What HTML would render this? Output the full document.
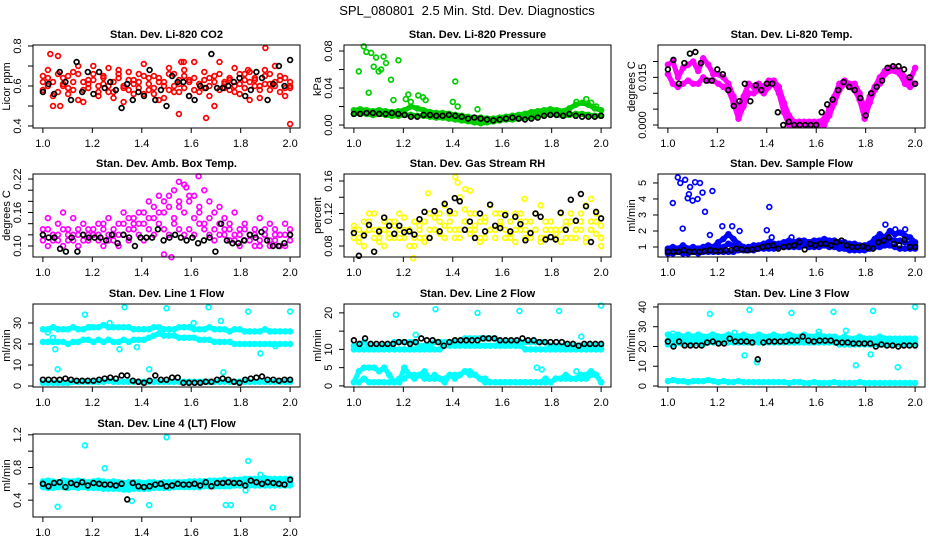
<!DOCTYPE html>
<html><head><meta charset="utf-8"><style>
body{margin:0;background:#fff;}
svg{display:block;font-family:"Liberation Sans",Arial,sans-serif;}
</style></head><body>
<svg id="c" width="936" height="540" viewBox="0 0 936 540" xmlns="http://www.w3.org/2000/svg">
<rect width="936" height="540" fill="#fff"/>
<text x="467" y="15" font-size="13" text-anchor="middle" style="white-space:pre">SPL_080801  2.5 Min. Std. Dev. Diagnostics</text>
</svg>
<script>
// ---------- data ----------
const xTicks = [1.0, 1.2, 1.4, 1.6, 1.8, 2.0];
const xTickLabels = ["1.0", "1.2", "1.4", "1.6", "1.8", "2.0"];

// Panel 1: CO2
const co2Red1 = [0.62,0.68,0.55,0.75,0.60,0.65,0.58,0.70,0.52,0.63,0.66,0.57,0.61,0.69,0.54,0.64,0.59,0.67,0.56,0.62,0.71,0.58,0.65,0.53,0.60,0.66,0.57,0.63,0.68,0.55,0.72,0.61,0.59,0.64,0.50,0.66,0.62,0.58,0.69,0.56,0.63,0.67,0.60,0.54,0.65,0.61,0.70,0.57,0.64,0.60];
const co2Red2 = [0.58,0.64,0.50,0.66,0.61,0.56,0.67,0.53,0.62,0.59,0.70,0.55,0.65,0.60,0.57,0.68,0.52,0.63,0.61,0.66,0.56,0.64,0.59,0.62,0.54,0.69,0.60,0.57,0.65,0.63,0.58,0.61,0.67,0.55,0.62,0.72,0.59,0.64,0.57,0.61,0.66,0.53,0.63,0.60,0.68,0.58,0.62,0.65,0.55,0.59];
const co2Red3 = [0.65,0.60,0.62,0.57,0.64,0.59,0.62,0.66,0.58,0.61,0.63,0.60,0.64,0.57,0.62,0.66,0.60,0.58,0.63,0.59,0.65,0.61,0.56,0.64,0.62,0.58,0.66,0.61,0.59,0.62,0.64,0.57,0.63,0.60,0.65,0.58,0.61,0.63,0.60,0.66,0.59,0.62,0.64,0.58,0.61,0.66,0.60,0.63,0.59,0.62];
const co2OutX = [1.03,1.07,1.55,1.66,1.90,2.00,1.56,1.57,1.83];
const co2OutY = [0.76,0.50,0.46,0.44,0.79,0.41,0.72,0.72,0.68];
const co2Black = [0.57,0.61,0.56,0.67,0.62,0.53,0.72,0.57,0.67,0.56,0.67,0.59,0.62,0.58,0.49,0.61,0.53,0.57,0.55,0.68,0.53,0.58,0.50,0.65,0.62,0.62,0.55,0.53,0.60,0.59,0.76,0.59,0.59,0.60,0.62,0.64,0.55,0.58,0.67,0.64,0.53,0.61,0.70,0.60,0.73];

// Panel 2: pressure
const presA = [0.016,0.017,0.016,0.015,0.016,0.015,0.014,0.015,0.016,0.020,0.018,0.016,0.014,0.013,0.013,0.012,0.011,0.010,0.009,0.008,0.008,0.007,0.007,0.008,0.009,0.010,0.011,0.012,0.014,0.015,0.016,0.017,0.016,0.015,0.018,0.022,0.024,0.022,0.018,0.016];
const presB = [0.012,0.013,0.012,0.011,0.012,0.011,0.010,0.010,0.011,0.011,0.010,0.010,0.009,0.008,0.008,0.007,0.006,0.005,0.004,0.003,0.002,0.003,0.004,0.005,0.006,0.006,0.007,0.008,0.009,0.010,0.011,0.012,0.011,0.010,0.011,0.012,0.012,0.011,0.010,0.010];
const presOutX = [1.02,1.04,1.05,1.06,1.07,1.08,1.09,1.10,1.11,1.12,1.13,1.15,1.16,1.18,1.21,1.22,1.23,1.26,1.28,1.29,1.40,1.41,1.42,1.50,1.90,1.94,1.96,1.98];
const presOutY = [0.058,0.085,0.079,0.035,0.078,0.063,0.073,0.058,0.060,0.074,0.067,0.049,0.027,0.070,0.028,0.033,0.025,0.032,0.030,0.027,0.025,0.047,0.020,0.017,0.025,0.028,0.024,0.020];
const presBlack = [0.012,0.012,0.013,0.013,0.012,0.012,0.013,0.012,0.011,0.009,0.009,0.011,0.011,0.010,0.010,0.011,0.010,0.009,0.007,0.008,0.007,0.006,0.005,0.006,0.007,0.008,0.007,0.006,0.007,0.008,0.010,0.011,0.011,0.010,0.012,0.010,0.009,0.009,0.009,0.010];

// Panel 3: Li-820 temp
const tempA = [0.019,0.020,0.015,0.018,0.019,0.020,0.017,0.021,0.019,0.016,0.016,0.015,0.013,0.009,0.005,0.009,0.013,0.012,0.013,0.012,0.014,0.014,0.012,0.007,0.003,0.001,0.001,0.001,0.001,0.001,0.001,0.002,0.005,0.009,0.013,0.014,0.013,0.013,0.010,0.005,0.009,0.012,0.015,0.017,0.018,0.018,0.017,0.015,0.014,0.018];
const tempB = [0.016,0.013,0.012,0.013,0.014,0.013,0.013,0.015,0.014,0.014,0.013,0.012,0.011,0.007,0.002,0.006,0.010,0.010,0.011,0.010,0.012,0.013,0.010,0.004,0.000,0.000,0.000,0.000,0.000,0.000,0.000,0.000,0.003,0.007,0.011,0.013,0.012,0.011,0.008,0.002,0.007,0.011,0.013,0.016,0.017,0.017,0.016,0.013,0.012,0.013];
const tempBlack = [0.0175,0.0205,0.0130,0.0195,0.0225,0.0230,0.0195,0.0140,0.0140,0.0175,0.0160,0.0110,0.0060,0.0075,0.0130,0.0075,0.0125,0.0110,0.0130,0.0130,0.0040,0.0000,0.0010,0.0000,0.0000,0.0000,0.0000,0.0000,0.0040,0.0065,0.0080,0.0110,0.0135,0.0120,0.0110,0.0085,0.0030,0.0100,0.0120,0.0140,0.0180,0.0185,0.0185,0.0175,0.0150,0.0130];

// Panel 4: amb box temp
const ambA = [0.13,0.15,0.12,0.14,0.16,0.13,0.15,0.12,0.14,0.13,0.12,0.14,0.13,0.15,0.12,0.14,0.16,0.13,0.15,0.14,0.16,0.15,0.17,0.16,0.18,0.19,0.20,0.17,0.21,0.18,0.19,0.17,0.20,0.18,0.16,0.17,0.15,0.14,0.16,0.13,0.14,0.12,0.13,0.15,0.12,0.14,0.13,0.12,0.14,0.12];
const ambB = [0.11,0.10,0.12,0.11,0.10,0.12,0.11,0.10,0.12,0.11,0.12,0.11,0.10,0.12,0.11,0.10,0.12,0.11,0.13,0.12,0.11,0.13,0.12,0.14,0.13,0.12,0.14,0.13,0.12,0.13,0.12,0.14,0.13,0.12,0.11,0.12,0.13,0.11,0.12,0.10,0.11,0.12,0.10,0.11,0.12,0.10,0.11,0.12,0.10,0.11];
const ambC = [0.12,0.13,0.11,0.12,0.13,0.11,0.12,0.13,0.11,0.12,0.13,0.12,0.14,0.11,0.13,0.12,0.14,0.15,0.14,0.16,0.14,0.18,0.15,0.19,0.16,0.17,0.15,0.18,0.16,0.19,0.15,0.16,0.14,0.15,0.13,0.14,0.12,0.13,0.11,0.12,0.13,0.11,0.12,0.10,0.13,0.11,0.12,0.10,0.12,0.13];
const ambOutX = [1.55,1.58,1.63,1.49,1.52];
const ambOutY = [0.215,0.205,0.225,0.085,0.08];
const ambBlack = [0.12,0.115,0.115,0.095,0.09,0.115,0.09,0.12,0.115,0.115,0.115,0.11,0.12,0.105,0.12,0.115,0.10,0.115,0.115,0.115,0.13,0.11,0.115,0.12,0.115,0.11,0.115,0.105,0.11,0.115,0.09,0.14,0.11,0.105,0.105,0.11,0.12,0.115,0.125,0.11,0.10,0.10,0.105,0.12];

// Panel 5: gas stream RH
const rhA = [0.10,0.09,0.11,0.10,0.12,0.09,0.10,0.11,0.09,0.12,0.10,0.08,0.11,0.10,0.09,0.12,0.10,0.11,0.13,0.10,0.12,0.14,0.11,0.10,0.12,0.09,0.11,0.13,0.10,0.12,0.09,0.11,0.10,0.12,0.09,0.11,0.10,0.13,0.09,0.11,0.10,0.12,0.09,0.11,0.10,0.12,0.13,0.10,0.11,0.09];
const rhB = [0.09,0.10,0.08,0.11,0.09,0.10,0.08,0.09,0.11,0.10,0.09,0.10,0.08,0.09,0.11,0.09,0.10,0.12,0.09,0.11,0.10,0.09,0.11,0.12,0.10,0.11,0.09,0.10,0.12,0.11,0.10,0.09,0.12,0.10,0.11,0.09,0.10,0.09,0.11,0.10,0.09,0.10,0.11,0.09,0.10,0.11,0.09,0.10,0.12,0.09];
const rhC = [0.105,0.085,0.095,0.12,0.10,0.085,0.11,0.095,0.105,0.09,0.115,0.10,0.09,0.105,0.085,0.10,0.115,0.095,0.105,0.12,0.09,0.10,0.125,0.095,0.105,0.085,0.115,0.10,0.09,0.105,0.12,0.095,0.085,0.11,0.10,0.095,0.12,0.085,0.10,0.11,0.095,0.085,0.105,0.12,0.09,0.10,0.085,0.11,0.095,0.105];
const rhOutX = [1.24,1.30,1.41,1.42,1.45,1.47,1.69,1.96,2.00];
const rhOutY = [0.065,0.145,0.165,0.158,0.150,0.148,0.138,0.138,0.080];
const rhBlack = [0.096,0.068,0.093,0.106,0.073,0.098,0.115,0.105,0.095,0.105,0.097,0.098,0.094,0.113,0.122,0.090,0.123,0.098,0.132,0.123,0.139,0.135,0.100,0.110,0.090,0.120,0.098,0.131,0.105,0.102,0.118,0.098,0.116,0.107,0.087,0.096,0.120,0.116,0.088,0.091,0.088,0.121,0.100,0.137,0.111,0.144,0.129,0.085,0.122,0.114];

// Panel 6: sample flow
const sfA = [0.9,1.0,0.9,1.1,0.9,1.0,0.9,1.0,1.1,1.0,1.3,1.5,1.8,1.5,1.2,1.0,1.0,1.1,1.1,1.2,1.3,1.2,1.2,1.3,1.4,1.3,1.4,1.4,1.3,1.4,1.4,1.5,1.4,1.4,1.3,1.3,1.2,1.2,1.1,1.1,1.2,1.5,1.8,1.6,2.0,1.8,1.9,1.7,1.6,1.3];
const sfB = [0.6,0.6,0.7,0.6,0.6,0.7,0.6,0.7,0.7,0.7,0.7,0.7,0.7,0.7,0.8,0.8,0.8,0.8,0.9,0.9,0.9,0.9,1.0,1.0,1.0,1.0,1.0,1.1,1.0,1.0,1.0,1.1,1.0,1.0,0.9,0.9,0.8,0.8,0.8,0.8,0.9,1.0,1.0,1.1,1.1,1.0,0.9,0.9,0.9,0.9];
const sfC = [0.8,0.8,0.8,0.8,0.8,0.8,0.8,0.8,0.9,0.9,1.0,1.0,1.2,1.1,1.0,0.9,0.9,0.9,1.0,1.0,1.1,1.1,1.1,1.2,1.2,1.2,1.2,1.3,1.2,1.2,1.2,1.3,1.2,1.2,1.1,1.1,1.0,1.0,1.0,1.0,1.1,1.3,1.4,1.3,1.5,1.4,1.4,1.3,1.2,1.1];
const sfOutX = [1.02,1.04,1.05,1.06,1.07,1.08,1.085,1.09,1.10,1.11,1.12,1.13,1.14,1.15,1.17,1.18,1.22,1.26,1.29,1.40,1.41,1.42,1.50,1.88,1.92,1.96];
const sfOutY = [3.75,5.35,5.0,2.15,5.2,4.05,4.3,4.75,3.9,5.05,4.0,5.0,4.4,3.2,1.75,4.5,2.3,2.3,2.0,2.05,3.5,1.6,1.6,2.4,2.1,2.1];
const sfBlack = [0.7,0.7,0.7,0.8,0.7,0.7,0.7,0.75,0.8,0.75,0.75,0.8,0.8,0.9,0.85,0.8,0.85,0.9,1.0,1.05,1.1,0.9,1.0,1.05,1.1,1.3,0.85,1.2,1.1,1.2,1.2,1.1,1.3,1.4,1.1,1.0,1.0,1.05,0.95,0.9,1.3,1.4,1.6,1.2,1.1,1.45,1.0,1.0];

// Panel 7: line 1 flow
const l1A = [27,27,28,27,27,27,28,27,27,28,28,28,29,28,28,28,28,28,27,27,27,27,28,28,27,27,27,28,28,28,27,27,27,28,27,27,27,26,27,27,26,26,26,26,27,26,26,26,26,26];
const l1B = [21,21,21,21,21,20,21,21,22,22,21,22,21,22,21,21,22,21,22,22,22,23,24,25,24,24,24,23,23,23,23,22,22,22,21,21,21,21,20,20,20,20,20,20,20,20,20,20,20,20];
const l1C = [1.5,1.5,1.5,1.5,1.5,1.5,2,2,2,2,2,2,2,2.5,2,2,2,2,2,2,2,2,2,2,2,2,2,2,2,2,2,2,2,2,2,2,2,2,2,2,2,2,2,2,2,2,2,2,2,2];
const l1OutX = [1.02,1.04,1.05,1.06,1.17,1.19,1.27,1.31,1.33,1.38,1.43,1.50,1.61,1.67,1.72,1.73,1.83,1.88,1.94,2.00];
const l1OutY = [25.5,23,17.5,8,34,28,30,17.5,37.5,18.5,8,37,30,37.5,31,6.5,35.5,15.5,19,35.5];
const l1Black = [3,3,3,3,3.5,3,2.5,2.5,2.5,2.5,3,3.5,4,3.5,5,5,2.5,2,1.5,2.5,5,3,3,4,4,1.5,1.5,1.5,1.5,2,2,3,3.5,3,2,1.5,3,3.5,4,4.5,3,3,2.5,3,3];

// Panel 8: line 2 flow
const l2A = [11,11,12,11,11,11,11,11,12,12,12,12,12,11,11,11,12,12,12,12,12,12,13,13,13,13,13,13,13,12,12,12,12,12,12,12,12,12,12,11,11,11,11,11,11,11,11,11,11,11];
const l2B = [10,10,10,10,10,10,10,10,10,10,10,10,10,10,10,10,10,10,11,11,11,11,11,11,11,11,11,11,11,11,11,11,11,11,10,10,10,10,10,10,10,10,10,10,10,10,10,10,10,10];
const l2C = [1,1,2,1,1,1,1,1,1,2,2,3,3,3,2,2,2,2,2,3,3,3,4,3,3,2,2,1,1,1,1,1,1,1,1,1,1,1,1,1,2,2,2,2,2,2,2,3,3,1];
const l2D = [1,4,5,5,5,4,5,3,1,1,5,3,2,3,4,2,3,2,1,3,2,3,4,4,3,2,1,1,1,1,1,1,1,1,1,1,1,1,2,1,2,2,3,2,2,3,3,4,3,1];
const l2OutX = [1.17,1.25,1.33,1.50,1.67,1.74,1.76,1.83,1.92,1.90,2.00];
const l2OutY = [19.5,14,21,20,20.5,5,4.5,20.5,13.5,4,22];
const l2Black = [12.5,11.5,13,11.5,11.5,11.5,11.5,11.5,12,12,11.5,12,13,12.5,12.5,12,11,12,12.5,12.5,12.5,12.5,12.5,13,13,13,12.5,12.5,12.5,12.5,13,12.5,12.5,12,12,12,12,12,11.5,11.5,11,11.5,11.5,11.5,11.5];

// Panel 9: line 3 flow
const l3A = [26,25,26,25,26,25,26,25,25,26,25,25,26,25,25,26,25,25,26,25,25,26,25,25,26,25,25,26,25,25,26,25,25,25,24,25,24,24,25,24,24,24,25,24,24,24,24,24,24,24];
const l3B = [21,21,22,21,21,21,22,21,22,22,22,22,22,22,22,22,22,22,22,22,22,22,22,22,22,22,22,22,22,22,22,22,22,22,21,21,21,21,21,21,21,21,21,21,21,21,21,21,21,21];
const l3C = [23,23,24,23,23,23,24,23,24,23,24,23,24,24,23,24,24,23,24,24,23,24,24,23,24,24,23,24,24,23,24,24,23,23,23,22,23,23,22,23,23,22,23,22,22,23,22,22,22,22];
const l3D = [2.5,3,2.5,2.5,2,2.5,2.5,2.5,3,2.5,2,2.5,2,2,2.5,2,2,2,2,2,2,2,2,2,1.5,2,2,1.5,1.5,2,1.5,1.5,1.5,2,1.5,1.5,1.5,1.5,2,1.5,1.5,1.5,1.5,1.5,1.5,1.5,1.5,1.5,1.5,1.5];
const l3OutX = [1.02,1.17,1.18,1.27,1.31,1.33,1.36,1.50,1.61,1.67,1.72,1.76,1.82,1.83,1.93,2.00];
const l3OutY = [26.5,36.5,26,27,15.5,38.5,12,37,27.5,37.5,28,10.5,16,38,9.5,40];
const l3Black = [22.5,20,22.5,20.5,20.5,20.5,20.5,22,22.5,21.5,21.5,24,22.5,22.5,22.5,22,13.5,22,22.5,22.5,22.5,22.5,23,23,25,23,22.5,23,23,23,22,22,22,21.5,21.5,21.5,21.5,20,21,20.5,20.5,20,20.5,20.5,20.5];

// Panel 10: line 4 flow
const l4A = [0.63,0.64,0.63,0.62,0.64,0.63,0.63,0.64,0.63,0.62,0.63,0.64,0.63,0.62,0.63,0.62,0.61,0.62,0.62,0.62,0.61,0.62,0.62,0.61,0.62,0.62,0.62,0.62,0.62,0.63,0.63,0.63,0.63,0.64,0.64,0.64,0.65,0.64,0.65,0.65,0.66,0.66,0.66,0.66,0.67,0.66,0.66,0.66,0.66,0.66];
const l4B = [0.56,0.55,0.55,0.56,0.56,0.55,0.56,0.55,0.56,0.55,0.55,0.55,0.54,0.54,0.54,0.54,0.53,0.53,0.54,0.54,0.54,0.54,0.55,0.55,0.55,0.55,0.56,0.56,0.56,0.56,0.56,0.56,0.57,0.57,0.57,0.57,0.57,0.57,0.58,0.58,0.58,0.58,0.58,0.58,0.58,0.58,0.58,0.58,0.58,0.58];
const l4C = [0.60,0.59,0.60,0.59,0.60,0.60,0.59,0.60,0.59,0.59,0.60,0.59,0.58,0.59,0.58,0.58,0.58,0.58,0.58,0.58,0.58,0.59,0.58,0.59,0.58,0.59,0.59,0.59,0.59,0.60,0.59,0.60,0.60,0.60,0.61,0.60,0.61,0.61,0.61,0.62,0.62,0.62,0.62,0.62,0.62,0.62,0.62,0.62,0.62,0.62];
const l4OutX = [1.06,1.17,1.25,1.36,1.43,1.50,1.74,1.76,1.83,1.88,1.93,1.82];
const l4OutY = [0.32,1.07,0.79,0.39,0.34,1.17,0.34,0.34,0.88,0.71,0.31,0.52];
const l4Black = [0.60,0.57,0.61,0.62,0.56,0.61,0.59,0.62,0.58,0.61,0.60,0.59,0.59,0.58,0.60,0.41,0.61,0.57,0.56,0.57,0.59,0.60,0.57,0.58,0.60,0.59,0.59,0.60,0.58,0.62,0.57,0.61,0.61,0.62,0.61,0.61,0.58,0.64,0.62,0.60,0.62,0.61,0.60,0.59,0.65];

// ---------- layout (not data) ----------
const colLeft = [33, 344, 658];
const rowTop = [45, 174, 304, 434];
const boxW = 267, boxH = 83;

const panels = [
 {name:'co2', title:'Stan. Dev. Li-820 CO2', ylab:'Licor ppm', col:0,row:0, dom:[0.39,0.805], ticks:[0.4,0.5,0.6,0.7,0.8], labels:['0.4','','0.6','','0.8'], color:'#ff0000', bands:[co2Red1,co2Red2,co2Red3], outX:co2OutX,outY:co2OutY, black:co2Black, fillBand:false},
 {name:'pressure', title:'Stan. Dev. Li-820 Pressure', ylab:'kPa', col:1,row:0, dom:[-0.0032,0.0865], ticks:[0,0.02,0.04,0.06,0.08], labels:['0.00','','0.04','','0.08'], color:'#00cd00', bands:[presA,presB], outX:presOutX,outY:presOutY, black:presBlack, fillBand:true},
 {name:'li820-temp', title:'Stan. Dev. Li-820 Temp.', ylab:'degrees C', col:2,row:0, dom:[-0.00094,0.0252], ticks:[0,0.005,0.01,0.015,0.02], labels:['0.000','','','0.015',''], color:'#ff00ff', bands:[tempA,tempB], outX:[],outY:[], black:tempBlack, fillBand:true},
 {name:'amb-box-temp', title:'Stan. Dev. Amb. Box Temp.', ylab:'degrees C', col:0,row:1, dom:[0.0803,0.229], ticks:[0.10,0.12,0.14,0.16,0.18,0.20,0.22], labels:['0.10','','','0.16','','','0.22'], color:'#ff00ff', bands:[ambA,ambB,ambC], outX:ambOutX,outY:ambOutY, black:ambBlack, fillBand:false},
 {name:'gas-stream-rh', title:'Stan. Dev. Gas Stream RH', ylab:'percent', col:1,row:1, dom:[0.0665,0.1686], ticks:[0.08,0.10,0.12,0.14,0.16], labels:['0.08','','0.12','','0.16'], color:'#ffff00', bands:[rhA,rhB,rhC], outX:rhOutX,outY:rhOutY, black:rhBlack, fillBand:false},
 {name:'sample-flow', title:'Stan. Dev. Sample Flow', ylab:'ml/min', col:2,row:1, dom:[0.375,5.56], ticks:[1,2,3,4,5], labels:['1','2','3','4','5'], color:'#0000ff', bands:[sfA,sfB,sfC], outX:sfOutX,outY:sfOutY, black:sfBlack, fillBand:true},
 {name:'line1-flow', title:'Stan. Dev. Line 1 Flow', ylab:'ml/min', col:0,row:2, dom:[-0.48,39.05], ticks:[0,10,20,30], labels:['0','10','20','30'], color:'#00ffff', bands:[l1A,l1B,l1C], outX:l1OutX,outY:l1OutY, black:l1Black, fillBand:true},
 {name:'line2-flow', title:'Stan. Dev. Line 2 Flow', ylab:'ml/min', col:1,row:2, dom:[-0.3,22.43], ticks:[0,5,10,15,20], labels:['0','5','10','','20'], color:'#00ffff', bands:[l2A,l2B,l2C,l2D], outX:l2OutX,outY:l2OutY, black:l2Black, fillBand:true},
 {name:'line3-flow', title:'Stan. Dev. Line 3 Flow', ylab:'ml/min', col:2,row:2, dom:[-0.5,41.5], ticks:[0,10,20,30,40], labels:['0','10','20','30','40'], color:'#00ffff', bands:[l3A,l3B,l3C,l3D], outX:l3OutX,outY:l3OutY, black:l3Black, fillBand:true},
 {name:'line4-flow', title:'Stan. Dev. Line 4 (LT) Flow', ylab:'ml/min', col:0,row:3, dom:[0.194,1.21], ticks:[0.4,0.6,0.8,1.0,1.2], labels:['0.4','','0.8','','1.2'], color:'#00ffff', bands:[l4A,l4B,l4C], outX:l4OutX,outY:l4OutY, black:l4Black, fillBand:true}
];

const NS = 'http://www.w3.org/2000/svg';
const svg = document.getElementById('c');
function mk(tag, attrs, parent){
  const e = document.createElementNS(NS, tag);
  for (const k in attrs) e.setAttribute(k, attrs[k]);
  parent.appendChild(e);
  return e;
}

panels.forEach(p => {
  const L = colLeft[p.col], T = rowTop[p.row], R = L + boxW, B = T + boxH;
  const xs = v => L + (v - 0.96) / 1.08 * boxW;
  const ys = v => B - (v - p.dom[0]) / (p.dom[1] - p.dom[0]) * boxH;
  const g = mk('g', {}, svg);
  
  

  const t = mk('text', {x: (L+R)/2, y: T - 7, 'font-size': 11, 'font-weight': 'bold', 'text-anchor': 'middle'}, g);
  t.textContent = p.title;
  
  

  const pts = mk('g', {fill: 'none', 'stroke-width': 1.7}, g);
  
  

  // dense band trace through band points (visual density of overplotted circles)
  if (p.fillBand) {
    p.bands.forEach(arr => {
      const d = arr.map((v, i) => (i ? 'L' : 'M') + xs(1 + i / (arr.length - 1)).toFixed(1) + ' ' + ys(v).toFixed(1)).join(' ');
      const pl = mk('path', {d: d, stroke: p.color, 'stroke-width': 5, fill: 'none', 'stroke-linejoin': 'round', 'stroke-linecap': 'round'}, pts);
      
      
    });
  }

  const dot = (x, y, col) => {
    const c = mk('circle', {cx: xs(x).toFixed(1), cy: ys(y).toFixed(1), r: 2.4, stroke: col}, pts);
    
    
  };
  p.bands.forEach(arr => arr.forEach((v, i) => dot(1 + i / (arr.length - 1), v, p.color)));
  p.outX.forEach((x, i) => dot(x, p.outY[i], p.color));
  p.black.forEach((v, i) => dot(1 + i / (p.black.length - 1), v, '#000'));

  const box = mk('rect', {x: L, y: T, width: boxW, height: boxH, fill: 'none', stroke: '#000', 'stroke-width': 1}, g);
  
  

  const xa = mk('g', {}, g);
  
  
  mk('line', {x1: xs(xTicks[0]), x2: xs(xTicks[xTicks.length-1]), y1: B, y2: B, stroke: '#000'}, xa);
  xTicks.forEach((v, i) => {
    mk('line', {x1: xs(v), x2: xs(v), y1: B, y2: B + 5, stroke: '#000'}, xa);
    const tl = mk('text', {x: xs(v), y: B + 19, 'font-size': 11, 'text-anchor': 'middle'}, xa);
    tl.textContent = xTickLabels[i];
    
    
  });

  const ya = mk('g', {}, g);
  
  
  mk('line', {x1: L, x2: L, y1: ys(p.ticks[0]), y2: ys(p.ticks[p.ticks.length-1]), stroke: '#000'}, ya);
  p.ticks.forEach((v, i) => {
    mk('line', {x1: L - 5, x2: L, y1: ys(v), y2: ys(v), stroke: '#000'}, ya);
    if (p.labels[i]) {
      const yl = mk('text', {x: L - 12, y: ys(v), 'font-size': 11, 'text-anchor': 'middle', transform: `rotate(-90 ${L-12} ${ys(v)})`}, ya);
      yl.textContent = p.labels[i];
      
      
    }
  });
  const yt = mk('text', {x: L - 23, y: (T+B)/2, 'font-size': 11, 'text-anchor': 'middle', transform: `rotate(-90 ${L-23} ${(T+B)/2})`}, g);
  yt.textContent = p.ylab;
  
  
});
</script>
</body></html>
